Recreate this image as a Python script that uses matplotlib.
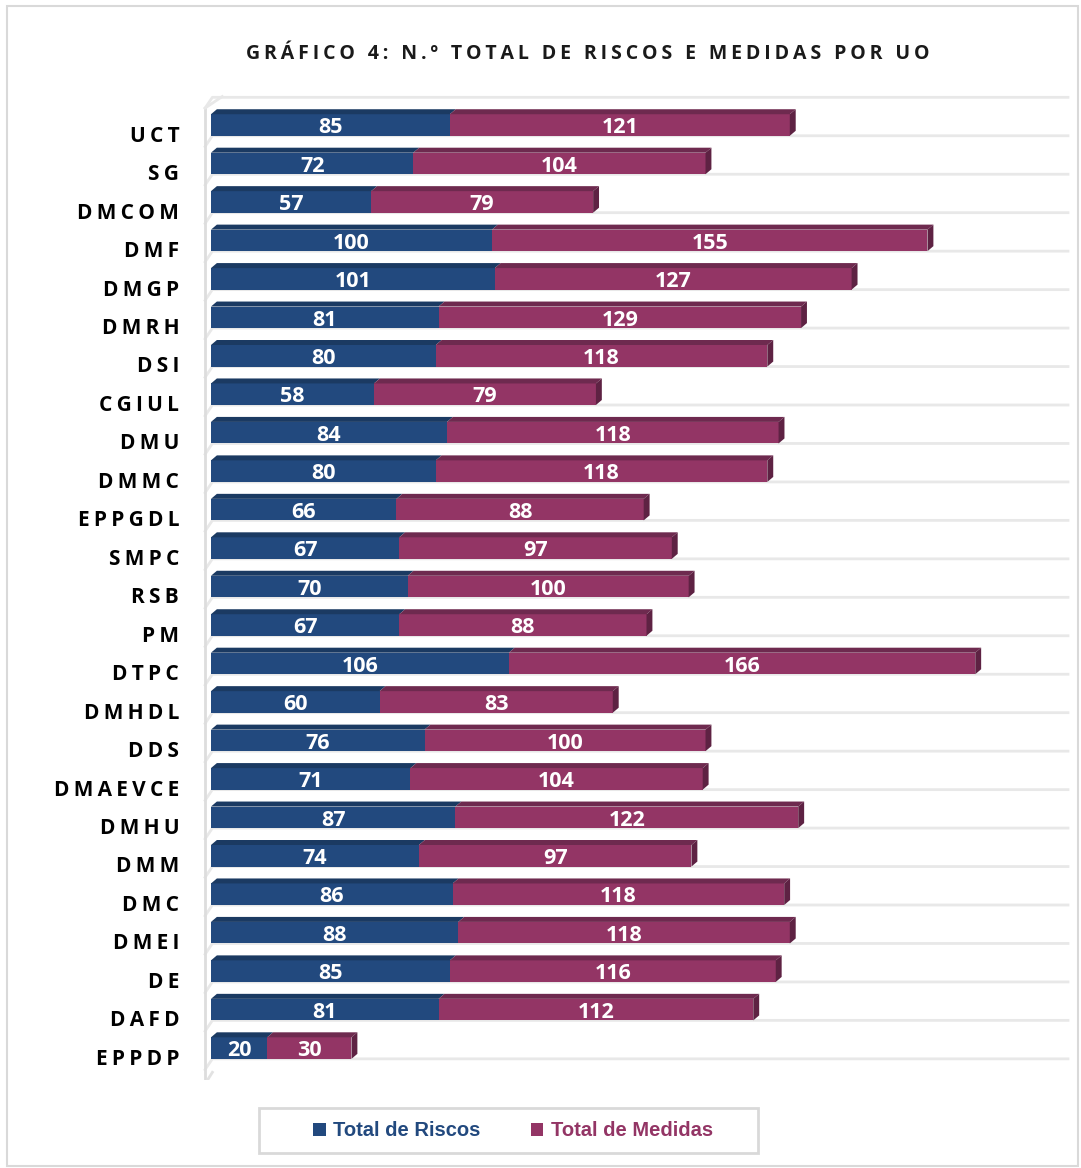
import matplotlib
matplotlib.use('Agg')
import matplotlib.pyplot as plt
from matplotlib.patches import Polygon, Rectangle, Patch

# data
cats = ['UCT', 'SG', 'DMCOM', 'DMF', 'DMGP', 'DMRH', 'DSI', 'CGIUL', 'DMU', 'DMMC',
        'EPPGDL', 'SMPC', 'RSB', 'PM', 'DTPC', 'DMHDL', 'DDS', 'DMAEVCE', 'DMHU',
        'DMM', 'DMC', 'DMEI', 'DE', 'DAFD', 'EPPDP']
riscos = [85, 72, 57, 100, 101, 81, 80, 58, 84, 80, 66, 67, 70, 67, 106, 60, 76, 71,
          87, 74, 86, 88, 85, 81, 20]
medidas = [121, 104, 79, 155, 127, 129, 118, 79, 118, 118, 88, 97, 100, 88, 166, 83,
           100, 104, 122, 97, 118, 118, 116, 112, 30]
series = ['Total de Riscos', 'Total de Medidas']
title = 'GRÁFICO 4: N.º TOTAL DE RISCOS E MEDIDAS POR UO'

blue, blue_top = '#22497E', '#1B3A62'
mag, mag_top, mag_side = '#933565', '#6E2A4F', '#5E2243'
grid_c = '#E8E8E8'

lbl_font = ['Open Sans', 'DejaVu Sans']
num_font = ['Open Sans', 'DejaVu Sans']
leg_font = ['Liberation Sans', 'DejaVu Sans']


def spaced(s, sep='\u200a\u200a'):
    # letter spacing with hair spaces
    return sep.join(s)


fig = plt.figure(figsize=(10.81, 11.68), dpi=100)
W, H = 1081, 1168
# outer frame
fig.patches.append(Rectangle((7 / W, 1 - 1166 / H), 1071 / W, 1160 / H,
                             transform=fig.transFigure, fill=False,
                             edgecolor='#D9D9D9', linewidth=1.5))
# legend box
fig.patches.append(Rectangle((259 / W, 1 - 1153 / H), 499 / W, 45 / H,
                             transform=fig.transFigure, fill=False,
                             edgecolor='#D9D9D9', linewidth=2))

ax = fig.add_axes([190 / W, 1 - 1080 / H, 885 / W, 990 / H])
ax.set_xlim(-7.47, 307.5)
ax.set_ylim(24.83, -0.91)
ax.axis('off')

n = len(cats)
h = 0.56
dx, dy = 2.1, 0.13
wall_x = -2.1

# back gridlines and left wall
for k in range(-1, n):
    yb = k + h / 2
    ax.plot([wall_x, 0.5, 305], [yb + 0.28, yb, yb], color=grid_c, lw=2, zorder=0)
ax.plot([wall_x, wall_x], [-1 + h / 2 + 0.28, n - 1 + h / 2 + 0.65],
        color='#DDDDDD', lw=2, zorder=0)
ax.plot([wall_x, 0.5], [n - 1 + h / 2 + 0.65, n - 1 + h / 2 + 0.35],
        color='#E2E2E2', lw=2, zorder=0)
ax.plot([wall_x, 4], [-1 + h / 2 + 0.28, -1 + h / 2 - 0.02], color=grid_c, lw=2, zorder=0)

for i in range(n):
    r, m = riscos[i], medidas[i]
    top = i - h / 2
    ax.barh(i, r, left=0, height=h, color=blue, zorder=2)
    ax.barh(i, m, left=r, height=h, color=mag, zorder=2)
    ax.add_patch(Polygon([(0, top), (dx, top - dy), (r + dx, top - dy), (r, top)],
                         closed=True, facecolor=blue_top, edgecolor='none', zorder=2))
    ax.add_patch(Polygon([(r, top), (r + dx, top - dy), (r + m + dx, top - dy), (r + m, top)],
                         closed=True, facecolor=mag_top, edgecolor='none', zorder=2))
    end = r + m
    ax.add_patch(Polygon([(end, top), (end + dx, top - dy), (end + dx, top + h - dy), (end, top + h)],
                         closed=True, facecolor=mag_side, edgecolor='none', zorder=2))
    ax.text(r / 2, i + 0.07, str(r), ha='center', va='center', color='white',
            fontsize=15.5, fontweight='bold', family=num_font, zorder=3)
    ax.text(r + m / 2, i + 0.07, str(m), ha='center', va='center', color='white',
            fontsize=15.5, fontweight='bold', family=num_font, zorder=3)
    ax.text(-11.3, i + 0.29, spaced(cats[i]), ha='right', va='center', color='black',
            fontsize=15, fontweight='bold', family=lbl_font, clip_on=False)

fig.text(588 / W, 1 - 54 / H, spaced(title, '\u2009'), ha='center', va='center',
         fontsize=14, fontweight='bold', family=lbl_font, color='#1A1A1A')

handles = [Patch(facecolor=blue), Patch(facecolor=mag)]
leg = fig.legend(handles, series, loc='center', bbox_to_anchor=(513 / W, 1 - 1131 / H),
                 ncol=2, frameon=False,
                 handlelength=0.62, handleheight=0.62, handletextpad=0.36,
                 columnspacing=2.5, borderpad=0, borderaxespad=0,
                 prop={'family': leg_font, 'size': 14.5, 'weight': 'bold'})
for t, c in zip(leg.get_texts(), [blue, mag]):
    t.set_color(c)

fig.savefig('out.png', dpi=100)
